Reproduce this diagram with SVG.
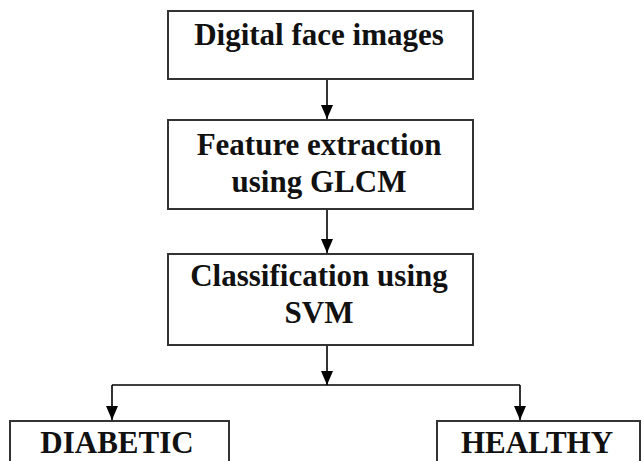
<svg xmlns="http://www.w3.org/2000/svg" width="644" height="461" viewBox="0 0 644 461">
<style>
.box{fill:#fff;stroke:#333;stroke-width:2}
.t{font-family:'Liberation Serif','DejaVu Serif',serif;font-weight:bold;font-size:31px;fill:#111;text-anchor:middle}
.c{fill:none;stroke:#000;stroke-width:1.6}
</style>
<defs>
<marker id="ah" viewBox="0 0 14 12" refX="14" refY="6" markerWidth="14" markerHeight="12" markerUnits="userSpaceOnUse" orient="auto">
<path d="M0,0 L14,6 L0,12 Z" fill="#000"/>
</marker>
</defs>
<rect width="644" height="461" fill="#fff"/>
<g id="n1"><rect class="box" x="168" y="11" width="305" height="68"/><text class="t" x="319" y="45">Digital face images</text></g>
<g id="n2"><rect class="box" x="168" y="120" width="305" height="89"/><text class="t" x="319" y="155">Feature extraction</text><text class="t" x="319" y="192">using GLCM</text></g>
<g id="n3"><rect class="box" x="168" y="254" width="305" height="91"/><text class="t" x="319" y="286">Classification using</text><text class="t" x="319" y="323">SVM</text></g>
<g id="n4"><rect class="box" x="10" y="421" width="219" height="60"/><text class="t" x="117" y="453">DIABETIC</text></g>
<g id="n5"><rect class="box" x="437" y="421" width="203" height="60"/><text class="t" x="537" y="453">HEALTHY</text></g>
<g id="connectors">
<line class="c" x1="327" y1="80" x2="327" y2="119" marker-end="url(#ah)"/>
<line class="c" x1="327" y1="210" x2="327" y2="253" marker-end="url(#ah)"/>
<line class="c" x1="327" y1="346" x2="327" y2="385" marker-end="url(#ah)"/>
<polyline class="c" points="112,385 520,385"/>
<line class="c" x1="112" y1="385" x2="112" y2="420" marker-end="url(#ah)"/>
<line class="c" x1="520" y1="385" x2="520" y2="420" marker-end="url(#ah)"/>
</g>
</svg>
